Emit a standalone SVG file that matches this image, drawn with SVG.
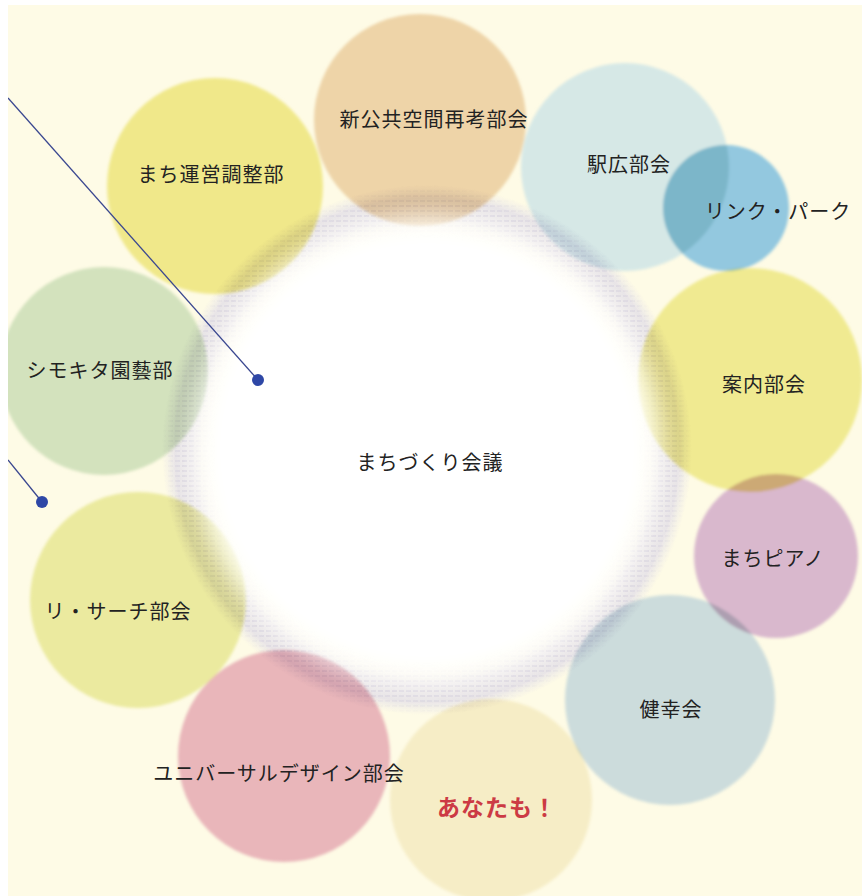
<svg xmlns="http://www.w3.org/2000/svg" width="862" height="896" viewBox="0 0 862 896">
<style>
.lbl{font-family:"Noto Sans CJK JP","Noto Sans",sans-serif;font-size:20px;letter-spacing:1px;fill:#222;text-anchor:middle}
.em{font-family:"Noto Sans CJK JP","Noto Sans",sans-serif;font-size:23px;font-weight:bold;letter-spacing:1px;fill:#cc3a44;text-anchor:middle}
.c{mix-blend-mode:multiply}
.con{stroke:#3a4790;stroke-width:1.3;fill:none}
.dot{fill:#2e47a6}
</style>
<defs>
<clipPath id="page"><rect x="8" y="5" width="854" height="891"/></clipPath>
<filter id="soft" x="-10%" y="-10%" width="120%" height="120%"><feGaussianBlur stdDeviation="1.5"/></filter>
<filter id="blur4" x="-10%" y="-10%" width="120%" height="120%"><feGaussianBlur stdDeviation="6"/></filter>
<radialGradient id="ringG" cx="0.5" cy="0.5" r="0.5">
<stop offset="0" stop-color="#ffffff" stop-opacity="0"/>
<stop offset="0.8" stop-color="#ffffff" stop-opacity="0"/>
<stop offset="0.88" stop-color="#e6e3f0" stop-opacity="0.6"/>
<stop offset="0.95" stop-color="#d9d5e8" stop-opacity="0.6"/>
<stop offset="1" stop-color="#e4e1ee" stop-opacity="0"/>
</radialGradient>
<radialGradient id="whiteG" cx="0.5" cy="0.5" r="0.5">
<stop offset="0" stop-color="#ffffff" stop-opacity="1"/>
<stop offset="0.85" stop-color="#ffffff" stop-opacity="1"/>
<stop offset="1" stop-color="#ffffff" stop-opacity="0"/>
</radialGradient>
<pattern id="hatch" width="7" height="5" patternUnits="userSpaceOnUse">
<line x1="0" y1="1" x2="5" y2="1" stroke="#aaa4c6" stroke-width="1" opacity="0.35"/>
</pattern>
<radialGradient id="ringM" cx="0.5" cy="0.5" r="0.5">
<stop offset="0.8" stop-color="#fff" stop-opacity="0"/>
<stop offset="0.92" stop-color="#fff" stop-opacity="1"/>
<stop offset="1" stop-color="#fff" stop-opacity="0"/>
</radialGradient>
<mask id="hatchMask"><circle cx="427" cy="450" r="265" fill="url(#ringM)"/></mask>
</defs>
<rect width="862" height="896" fill="#ffffff"/>
<rect x="8" y="5" width="854" height="891" fill="#fefbe6"/>

<g clip-path="url(#page)">
<g id="nodes" filter="url(#soft)">
<g id="n-shinkokyo"><circle class="c" cx="420" cy="120" r="106" fill="#eed4a8"/></g>
<g id="n-machiunei"><circle class="c" cx="215" cy="186" r="108" fill="#f0e88a"/></g>
<g id="n-ekihiro"><circle class="c" cx="625" cy="167" r="104" fill="#d6e8e6"/></g>
<g id="n-linkpark"><circle class="c" cx="726" cy="208" r="63" fill="#93c8df"/></g>
<g id="n-annai"><circle class="c" cx="750" cy="380" r="112" fill="#f0ea91"/></g>
<g id="n-piano"><circle class="c" cx="776" cy="556" r="82" fill="#d9b8cd"/></g>
<g id="n-kenko"><circle class="c" cx="670" cy="700" r="105" fill="#ccdcdc"/></g>
<g id="n-anata"><circle class="c" cx="491" cy="800" r="101" fill="#f6edc6"/></g>
<g id="n-universal"><circle class="c" cx="284" cy="756" r="106" fill="#e9b6ba"/></g>
<g id="n-research"><circle class="c" cx="138" cy="600" r="108" fill="#ebea9f"/></g>
<g id="n-shimokita"><circle class="c" cx="104" cy="371" r="104" fill="#d3e2bd"/></g>
</g>

<g id="n-center">
<circle cx="427" cy="450" r="265" fill="url(#ringG)" class="c"/>
<rect x="160" y="183" width="534" height="534" fill="url(#hatch)" mask="url(#hatchMask)" class="c"/>
<circle cx="427" cy="450" r="246" fill="url(#whiteG)" filter="url(#blur4)"/>
</g>

<g id="connectors">
<line class="con" x1="8" y1="98" x2="258" y2="380"/>
<circle class="dot" cx="258" cy="380" r="6"/>
<line class="con" x1="8" y1="460" x2="42" y2="502"/>
<circle class="dot" cx="42" cy="502" r="6"/>
</g>
</g>

<g id="labels">
<text class="lbl" x="434" y="127">新公共空間再考部会</text>
<text class="lbl" x="211" y="182">まち運営調整部</text>
<text class="lbl" x="629" y="172">駅広部会</text>
<text class="lbl" x="778" y="219">リンク・パーク</text>
<text class="lbl" x="100" y="378">シモキタ園藝部</text>
<text class="lbl" x="430" y="470">まちづくり会議</text>
<text class="lbl" x="764" y="392">案内部会</text>
<text class="lbl" x="773" y="566">まちピアノ</text>
<text class="lbl" x="118" y="619">リ・サーチ部会</text>
<text class="lbl" x="279" y="781">ユニバーサルデザイン部会</text>
<text class="lbl" x="671" y="717">健幸会</text>
<text class="em" x="497" y="816">あなたも！</text>
</g>
</svg>
